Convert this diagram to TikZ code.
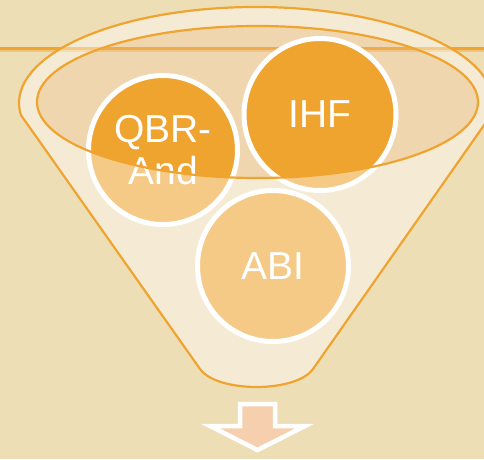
\documentclass[tikz,border=0pt]{standalone}
\usepackage{fontspec}
\setmainfont{Liberation Sans}
\definecolor{parch}{HTML}{EEDEB6}
\definecolor{orng}{HTML}{EFA430}
\definecolor{peach}{HTML}{F2C4A0}
\definecolor{arrowfill}{HTML}{F5CFAE}
\tikzset{
  bubble/.style={circle, fill=orng, draw=white, line width=5pt, inner sep=0pt,
    text=white, align=center, font=\fontsize{39}{42}\selectfont},
  rim/.style={draw=orng, line width=2.2pt},
}
\begin{document}
\begin{tikzpicture}[x=1pt,y=1pt]
\useasboundingbox (0,0) rectangle (484,459);
\clip (0,0) rectangle (484,459);
% background
\fill[parch] (0,0) rectangle (484,459);
% top rule
\draw[orng, line width=3pt] (0,410) -- (484,410);
\draw[orng!45!parch, line width=2pt] (0,407.5) -- (484,407.5);
% inner ellipse tint
\fill[peach, opacity=0.28] (257.5,357) ellipse [x radius=220.5pt, y radius=76pt];
% circles
\node[bubble, minimum size=149pt] (qbr) at (163,309) {QBR-\\And};
\node[bubble, minimum size=152pt] (ihf) at (320,344.5) {IHF};
\node[bubble, minimum size=151pt] (abi) at (273,193) {ABI};
% funnel body overlay with hole
\fill[white, opacity=0.42, even odd rule]
  (20.9,344) arc[start angle=187.2, end angle=-7.2, x radius=237pt, y radius=96pt]
  -- (313,90) .. controls (296,66) and (217,66) .. (200,90) -- cycle
  (257.5,357) ellipse [x radius=220.5pt, y radius=76pt];
% outlines
\draw[rim, line join=round]
  (20.9,344) arc[start angle=187.2, end angle=-7.2, x radius=237pt, y radius=96pt]
  -- (313,90) .. controls (296,66) and (217,66) .. (200,90) -- cycle;
\draw[rim] (257.5,357) ellipse [x radius=220.5pt, y radius=76pt];
% down arrow
\draw[draw=white, fill=arrowfill, line width=4.5pt, line join=miter]
  (240,55) -- (275,55) -- (275,33) -- (305,33) -- (257.5,9) -- (210,33) -- (240,33) -- cycle;
\end{tikzpicture}
\end{document}
